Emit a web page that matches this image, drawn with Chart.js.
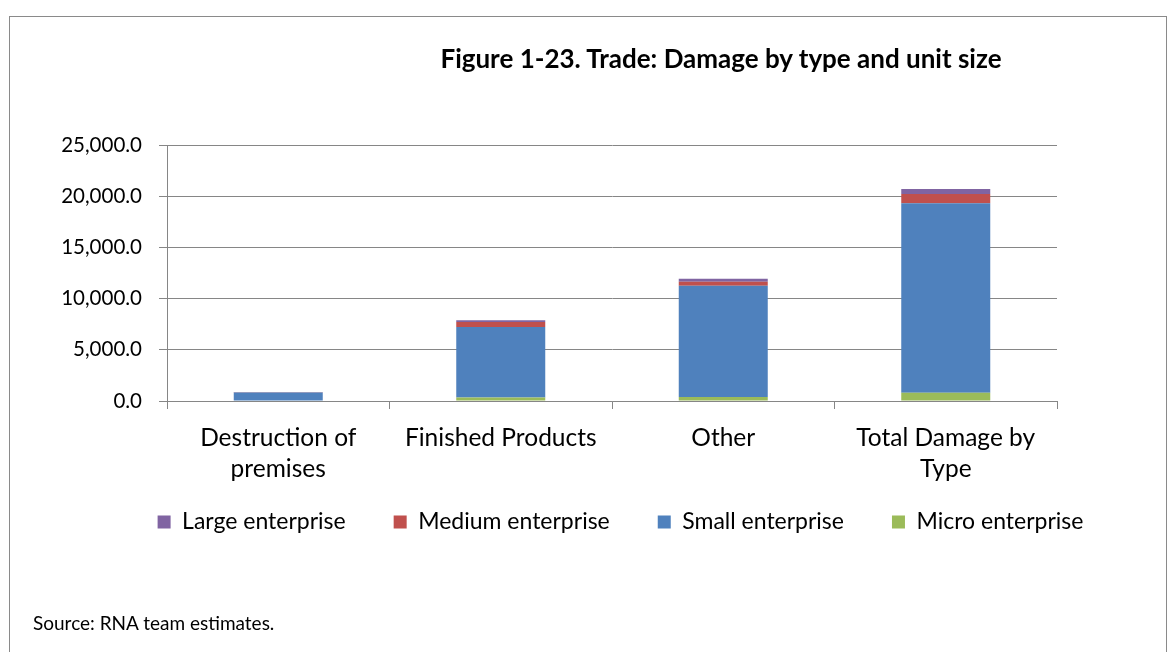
<!DOCTYPE html>
<html><head><meta charset="utf-8">
<script src="https://cdn.jsdelivr.net/npm/chart.js@4"></script>
<style>
html,body{margin:0;padding:0;background:#fff;width:1170px;height:652px;overflow:hidden;}
#frame{position:absolute;left:9px;top:16px;width:1158px;height:700px;border:1px solid #8a8a8a;border-bottom:none;box-sizing:border-box;}
#title{position:absolute;top:43px;left:321px;width:800px;text-align:center;font:bold 26px Lato;line-height:30px;color:#000;white-space:nowrap;}
#source{position:absolute;left:33px;top:611px;font:19px Lato;line-height:24px;color:#000;white-space:nowrap;}
#wrap{position:absolute;left:0;top:0;width:1170px;height:652px;}
</style></head>
<body>
<div id="frame"></div>
<div id="wrap"><canvas id="c" width="1170" height="652"></canvas></div>
<div id="title">Figure 1-23. Trade: Damage by type and unit size</div>
<div id="source">Source: RNA team estimates.</div>
<script>
const categories = [["Destruction of","premises"],"Finished Products","Other",["Total Damage by","Type"]];
const microEnterprise = [50, 350, 400, 800];
const smallEnterprise = [780, 6880, 10850, 18510];
const mediumEnterprise = [30, 490, 390, 910];
const largeEnterprise = [15, 170, 300, 485];
const yTicks = [0, 5000, 10000, 15000, 20000, 25000];

const legendShift = {
  id: 'legendShift',
  afterLayout(chart) {
    const lg = chart.legend;
    if (!lg) return;
    lg.left += 92; lg.right += 92;
    const dy = 462.5 - lg.top;
    lg.top += dy; lg.bottom += dy;
  }
};

new Chart(document.getElementById('c'), {
  type: 'bar',
  data: {
    labels: categories,
    datasets: [
      {label: 'Micro enterprise', data: microEnterprise, backgroundColor: '#9BBB59'},
      {label: 'Small enterprise', data: smallEnterprise, backgroundColor: '#4F81BD'},
      {label: 'Medium enterprise', data: mediumEnterprise, backgroundColor: '#C0504D'},
      {label: 'Large enterprise', data: largeEnterprise, backgroundColor: '#8064A2'}
    ]
  },
  options: {
    responsive: false,
    animation: false,
    devicePixelRatio: 1,
    layout: {padding: {top: 145, left: 0, right: 113, bottom: 86}},
    datasets: {bar: {categoryPercentage: 0.8, barPercentage: 0.5, borderWidth: 0}},
    plugins: {
      title: {display: false},
      tooltip: {enabled: false},
      legend: {
        position: 'bottom',
        reverse: true,
        labels: {boxWidth: 13, boxHeight: 13, padding: 48, color: '#000', font: {family: 'Lato', size: 23}}
      }
    },
    scales: {
      x: {
        stacked: true,
        afterFit(s) { s.height = 84; },
        grid: {offset: true, drawOnChartArea: false, drawTicks: true, tickLength: 8, color: '#868686'},
        border: {display: true, color: '#868686'},
        ticks: {color: '#000', padding: 14, maxRotation: 0, autoSkip: false, font: {family: 'Lato', size: 24.5, lineHeight: 1.25}}
      },
      y: {
        stacked: true,
        min: 0, max: 25000,
        afterFit(s) { s.width = 167; },
        afterBuildTicks(s) { s.ticks = yTicks.map(v => ({value: v})); },
        grid: {color: '#868686', tickLength: 8, drawTicks: true},
        border: {display: true, color: '#868686'},
        ticks: {color: '#000', padding: 17, font: {family: 'Lato', size: 20.5},
          callback: v => Number(v).toLocaleString('en-US', {minimumFractionDigits: 1, maximumFractionDigits: 1})}
      }
    }
  },
  plugins: [legendShift]
});
</script>
</body></html>
